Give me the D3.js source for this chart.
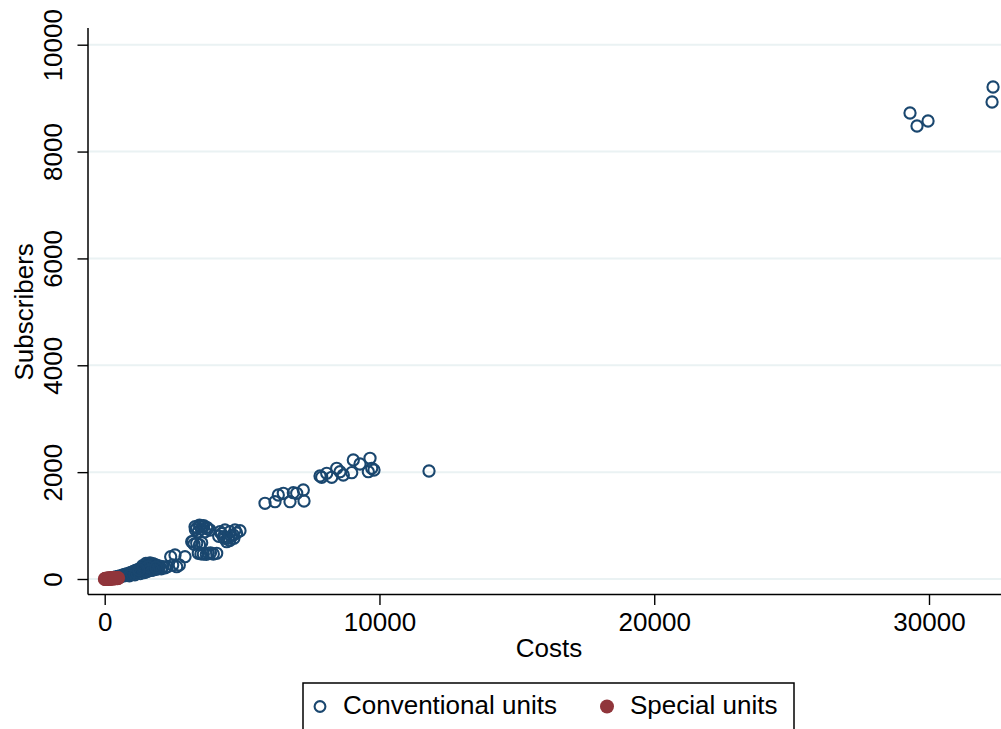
<!DOCTYPE html>
<html>
<head>
<meta charset="utf-8">
<script src="https://cdn.jsdelivr.net/npm/d3@7"></script>
<style>
  html, body { margin: 0; padding: 0; background: #ffffff; }
  svg { display: block; font-family: "Liberation Sans", Arial, Helvetica, sans-serif; }
</style>
</head>
<body>
<svg id="chart" width="1001" height="729"></svg>
<script>
// Conventional units: [costs, subscribers]
const conventionalUnits = [
  [80,4],[120,10],[160,8],[200,14],[240,20],[280,18],[320,30],[360,26],[400,40],[440,35],
  [480,50],[520,42],[560,60],[600,48],[640,70],[680,58],[720,85],[760,65],[800,95],[840,75],
  [880,110],[920,85],[960,125],[1000,95],[1040,140],[1080,105],[1120,160],[1160,120],[1200,175],[1240,130],
  [1280,195],[1320,145],[1360,215],[1400,160],[1440,235],[1480,175],[1520,255],[1560,190],[1600,275],[1640,200],
  [1680,260],[1720,215],[1760,285],[1800,230],[1840,270],[1880,180],[1920,250],[1960,200],[2000,240],[2060,190],
  [2120,230],[2200,210],[1300,100],[1450,120],[1550,140],[1700,160],[1100,80],[900,60],[1650,300],[1500,290],
  [1780,170],[1380,250],[1580,230],[1620,160],[1860,220],[1250,170],
  [2278,230],[2402,417],[2475,262],[2559,449],[2620,230],[2715,262],[2923,417],
  [3287,979],[3468,992],[3589,979],[3712,968],[3407,885],[3650,885],[3832,917],
  [3350,950],[3520,940],[3600,1000],[3750,940],[3450,1010],[3300,920],
  [3166,698],[3349,668],[3530,679],[3250,650],[3450,640],[3200,700],
  [3407,481],[3589,468],[3771,481],[3953,468],[4076,481],[3500,470],[3700,460],[3850,490],
  [4196,885],[4378,917],[4560,885],[4742,917],[4924,904],[4316,792],[4498,762],[4680,823],[4440,698],
  [4250,850],[4600,800],[4800,860],[4350,760],[4550,720],[4700,760],[4150,800],
  [5834,1417],[6198,1447],[6318,1572],[6500,1604],[6744,1447],[6864,1615],[6988,1604],[7228,1666],[7254,1460],
  [7836,1928],[7898,1903],[8080,1978],[8262,1903],[8444,2072],[8564,2008],[8684,1946],[8990,1990],
  [9048,2227],[9292,2152],[9656,2259],[9594,2008],[9718,2072],[9801,2040],
  [11803,2021],
  [29309,8722],[29564,8478],[29965,8572],[32331,9208],[32295,8928]
];

// Special units: [costs, subscribers]
const specialUnits = [
  [5,0],[20,2],[35,1],[50,3],[70,2],[90,5],[110,4],[130,6],[150,3],[175,8],
  [200,6],[225,10],[250,7],[275,12],[300,9],[325,14],[350,11],[380,16],[410,12],[440,18],
  [470,14],[485,20],[60,8],[160,12],[260,15],[360,20]
];

const xTicks = [0, 10000, 20000, 30000];
const yTicks = [0, 2000, 4000, 6000, 8000, 10000];
const legendLabels = ["Conventional units", "Special units"];

const navy = "#1a476f";
const maroon = "#90353b";
const gridColor = "#eaf2f3";

const svg = d3.select("#chart");

const x = d3.scaleLinear().domain([0, 30000]).range([104.7, 929]);
const y = d3.scaleLinear().domain([0, 10000]).range([579, 44.7]);

const plotLeft = 88, plotBottom = 594.5, plotTop = 28, plotRight = 1010;

// horizontal gridlines
svg.append("g")
  .selectAll("line")
  .data(yTicks)
  .join("line")
  .attr("x1", plotLeft).attr("x2", plotRight)
  .attr("y1", d => y(d)).attr("y2", d => y(d))
  .attr("stroke", gridColor).attr("stroke-width", 2);

// y axis
const yAxis = svg.append("g")
  .attr("transform", `translate(${plotLeft},0)`)
  .call(d3.axisLeft(y).tickValues(yTicks).tickSize(10.5).tickPadding(0).tickFormat(d3.format("d")));
yAxis.select(".domain").remove();
yAxis.selectAll(".tick line").attr("stroke", "#000").attr("stroke-width", 1.4);
yAxis.selectAll(".tick text")
  .attr("x", null).attr("dy", null)
  .attr("transform", "translate(-26,0) rotate(-90)")
  .attr("text-anchor", "middle")
  .attr("font-size", 26)
  .attr("fill", "#000");

svg.append("line")
  .attr("x1", plotLeft).attr("x2", plotLeft)
  .attr("y1", plotTop).attr("y2", plotBottom)
  .attr("stroke", "#000").attr("stroke-width", 1.5);

// x axis
const xAxis = svg.append("g")
  .attr("transform", `translate(0,${plotBottom})`)
  .call(d3.axisBottom(x).tickValues(xTicks).tickSize(10.5).tickPadding(0).tickFormat(d3.format("d")));
xAxis.select(".domain").remove();
xAxis.selectAll(".tick line").attr("stroke", "#000").attr("stroke-width", 1.4);
xAxis.selectAll(".tick text")
  .attr("y", 36.5).attr("dy", null)
  .attr("font-size", 26)
  .attr("fill", "#000");

svg.append("line")
  .attr("x1", plotLeft).attr("x2", plotRight)
  .attr("y1", plotBottom).attr("y2", plotBottom)
  .attr("stroke", "#000").attr("stroke-width", 1.5);

// axis titles
svg.append("text")
  .attr("x", 549).attr("y", 657)
  .attr("text-anchor", "middle")
  .attr("font-size", 26)
  .text("Costs");

svg.append("text")
  .attr("transform", `translate(33,${(y(0) + y(10000)) / 2}) rotate(-90)`)
  .attr("text-anchor", "middle")
  .attr("font-size", 26)
  .text("Subscribers");

// markers
svg.append("g")
  .selectAll("circle")
  .data(conventionalUnits)
  .join("circle")
  .attr("cx", d => x(d[0]))
  .attr("cy", d => y(d[1]))
  .attr("r", 5.6)
  .attr("fill", "none")
  .attr("stroke", navy)
  .attr("stroke-width", 2.1);

svg.append("g")
  .selectAll("circle")
  .data(specialUnits)
  .join("circle")
  .attr("cx", d => x(d[0]))
  .attr("cy", d => y(d[1]))
  .attr("r", 7)
  .attr("fill", maroon);

// legend
const legend = svg.append("g");
legend.append("rect")
  .attr("x", 303).attr("y", 683)
  .attr("width", 491).attr("height", 70)
  .attr("fill", "#fff")
  .attr("stroke", "#000").attr("stroke-width", 1.5);

legend.append("circle")
  .attr("cx", 320).attr("cy", 706.5).attr("r", 5.4)
  .attr("fill", "none").attr("stroke", navy).attr("stroke-width", 2.1);
legend.append("text")
  .attr("x", 343).attr("y", 714)
  .attr("font-size", 26)
  .text(legendLabels[0]);

legend.append("circle")
  .attr("cx", 607).attr("cy", 706.5).attr("r", 7)
  .attr("fill", maroon);
legend.append("text")
  .attr("x", 630).attr("y", 714)
  .attr("font-size", 26)
  .text(legendLabels[1]);
</script>
</body>
</html>
